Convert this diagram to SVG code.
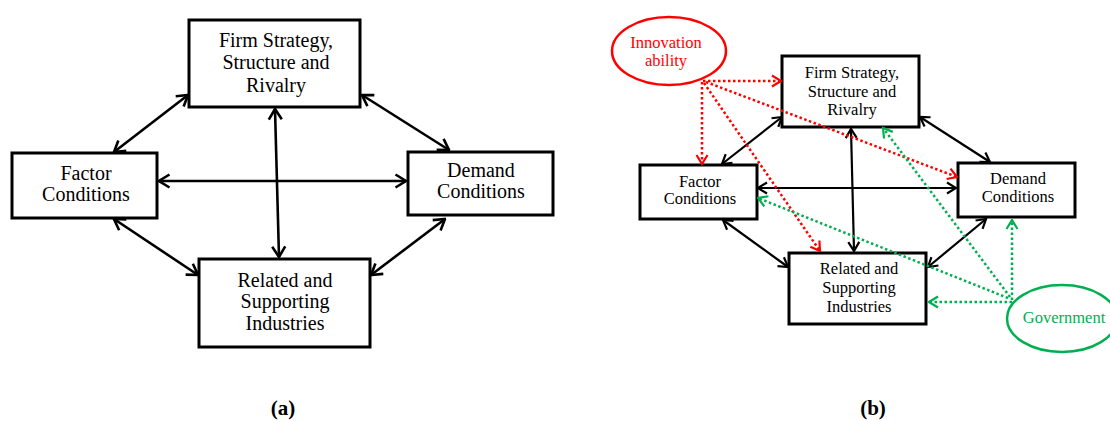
<svg xmlns="http://www.w3.org/2000/svg" width="1110" height="421" viewBox="0 0 1110 421">
<style>
.box{fill:#fff;stroke:#000;stroke-width:3}
.ta{font-family:"Liberation Serif","Times New Roman",serif;font-size:20px;fill:#000;text-anchor:middle}
.tb{font-family:"Liberation Serif","Times New Roman",serif;font-size:16.5px;fill:#000;text-anchor:middle}
.cap{font-family:"Liberation Serif","Times New Roman",serif;font-size:21px;font-weight:bold;fill:#000;text-anchor:middle}
.la{fill:none;stroke:#000;stroke-width:2.6;marker-start:url(#ahA);marker-end:url(#ahA)}
.lb{fill:none;stroke:#000;stroke-width:2.2;marker-start:url(#ahB);marker-end:url(#ahB)}
.lr{fill:none;stroke:#ff0000;stroke-width:2.5;stroke-dasharray:2.5 2.5;marker-end:url(#ahR)}
.lg{fill:none;stroke:#00b050;stroke-width:2.5;stroke-dasharray:2.5 2.5;marker-end:url(#ahG)}
.red{fill:#ff0000}
.green{fill:#00b050}
</style>
<defs>
<marker id="ahA" viewBox="0 0 14 16" refX="12.5" refY="8" markerWidth="14" markerHeight="16" markerUnits="userSpaceOnUse" orient="auto-start-reverse"><path d="M2,1.5 L12.5,8 L2,14.5" fill="none" stroke="#000" stroke-width="2.6"/></marker>
<marker id="ahB" viewBox="0 0 12 14" refX="10.5" refY="7" markerWidth="12" markerHeight="14" markerUnits="userSpaceOnUse" orient="auto-start-reverse"><path d="M1.5,1.5 L10.5,7 L1.5,12.5" fill="none" stroke="#000" stroke-width="2.2"/></marker>
<marker id="ahR" viewBox="0 0 12 14" refX="10.5" refY="7" markerWidth="12" markerHeight="14" markerUnits="userSpaceOnUse" orient="auto"><path d="M1.5,1.5 L10.5,7 L1.5,12.5" fill="none" stroke="#ff0000" stroke-width="2.2"/></marker>
<marker id="ahG" viewBox="0 0 12 14" refX="10.5" refY="7" markerWidth="12" markerHeight="14" markerUnits="userSpaceOnUse" orient="auto"><path d="M1.5,1.5 L10.5,7 L1.5,12.5" fill="none" stroke="#00b050" stroke-width="2.2"/></marker>
</defs>
<rect width="1110" height="421" fill="#fff"/>

<!-- Panel (a) nodes -->
<g id="a-firm"><rect class="box" x="189" y="20" width="171" height="87"/>
<text class="ta" x="276" y="47">Firm Strategy,</text><text class="ta" x="276" y="69">Structure and</text><text class="ta" x="276" y="92">Rivalry</text></g>
<g id="a-factor"><rect class="box" x="12" y="153" width="145" height="65"/>
<text class="ta" x="86" y="180">Factor</text><text class="ta" x="86" y="201">Conditions</text></g>
<g id="a-demand"><rect class="box" x="408" y="152" width="145" height="63"/>
<text class="ta" x="481" y="177">Demand</text><text class="ta" x="481" y="198">Conditions</text></g>
<g id="a-related"><rect class="box" x="199" y="259" width="171" height="88"/>
<text class="ta" x="285" y="287">Related and</text><text class="ta" x="285" y="308">Supporting</text><text class="ta" x="285" y="330">Industries</text></g>
<text class="cap" x="283" y="415">(a)</text>

<!-- Panel (b) nodes -->
<g id="b-innovation"><ellipse cx="669" cy="51" rx="57" ry="34" fill="none" stroke="#ff0000" stroke-width="2.5"/>
<text class="tb red" x="666" y="48">Innovation</text><text class="tb red" x="666" y="66">ability</text></g>
<g id="b-firm"><rect class="box" x="782" y="56" width="137" height="71"/>
<text class="tb" x="852" y="78">Firm Strategy,</text><text class="tb" x="852" y="97">Structure and</text><text class="tb" x="852" y="115">Rivalry</text></g>
<g id="b-factor"><rect class="box" x="640" y="165" width="117" height="54"/>
<text class="tb" x="700" y="187">Factor</text><text class="tb" x="700" y="204">Conditions</text></g>
<g id="b-demand"><rect class="box" x="958" y="163" width="117" height="54"/>
<text class="tb" x="1018" y="184">Demand</text><text class="tb" x="1018" y="202">Conditions</text></g>
<g id="b-related"><rect class="box" x="789" y="253" width="137" height="71"/>
<text class="tb" x="859" y="274">Related and</text><text class="tb" x="859" y="293">Supporting</text><text class="tb" x="859" y="312">Industries</text></g>
<g id="b-government"><ellipse cx="1062" cy="318.5" rx="55" ry="33.5" fill="none" stroke="#00b050" stroke-width="2.5"/>
<text class="tb green" x="1064" y="323">Government</text></g>
<text class="cap" x="873" y="415">(b)</text>

<!-- Connectors -->
<g id="connectors">
<line class="la" x1="188" y1="95" x2="114" y2="152"/>
<line class="la" x1="362" y1="95" x2="449" y2="150"/>
<line class="la" x1="159" y1="181" x2="406" y2="181"/>
<line class="la" x1="275" y1="109" x2="279" y2="257"/>
<line class="la" x1="114" y1="219" x2="198" y2="275"/>
<line class="la" x1="445" y1="219" x2="371" y2="275"/>
<line class="lb" x1="782" y1="117" x2="722" y2="164"/>
<line class="lb" x1="920" y1="117" x2="990" y2="162"/>
<line class="lb" x1="758" y1="188" x2="956" y2="188"/>
<line class="lb" x1="851" y1="129" x2="854" y2="251"/>
<line class="lb" x1="723" y1="220" x2="788" y2="267"/>
<line class="lb" x1="986" y1="219" x2="928" y2="267"/>
<line class="lr" x1="703" y1="81" x2="781" y2="81"/>
<line class="lr" x1="702" y1="82" x2="702" y2="164"/>
<line class="lr" x1="704" y1="83" x2="820" y2="251"/>
<line class="lr" x1="706" y1="82" x2="957" y2="177"/>
<line class="lg" x1="1012" y1="302" x2="929" y2="302"/>
<line class="lg" x1="1012" y1="300" x2="1012" y2="220"/>
<line class="lg" x1="1008" y1="298" x2="758" y2="198"/>
<line class="lg" x1="1010" y1="297" x2="883" y2="128"/>
</g>
</svg>
